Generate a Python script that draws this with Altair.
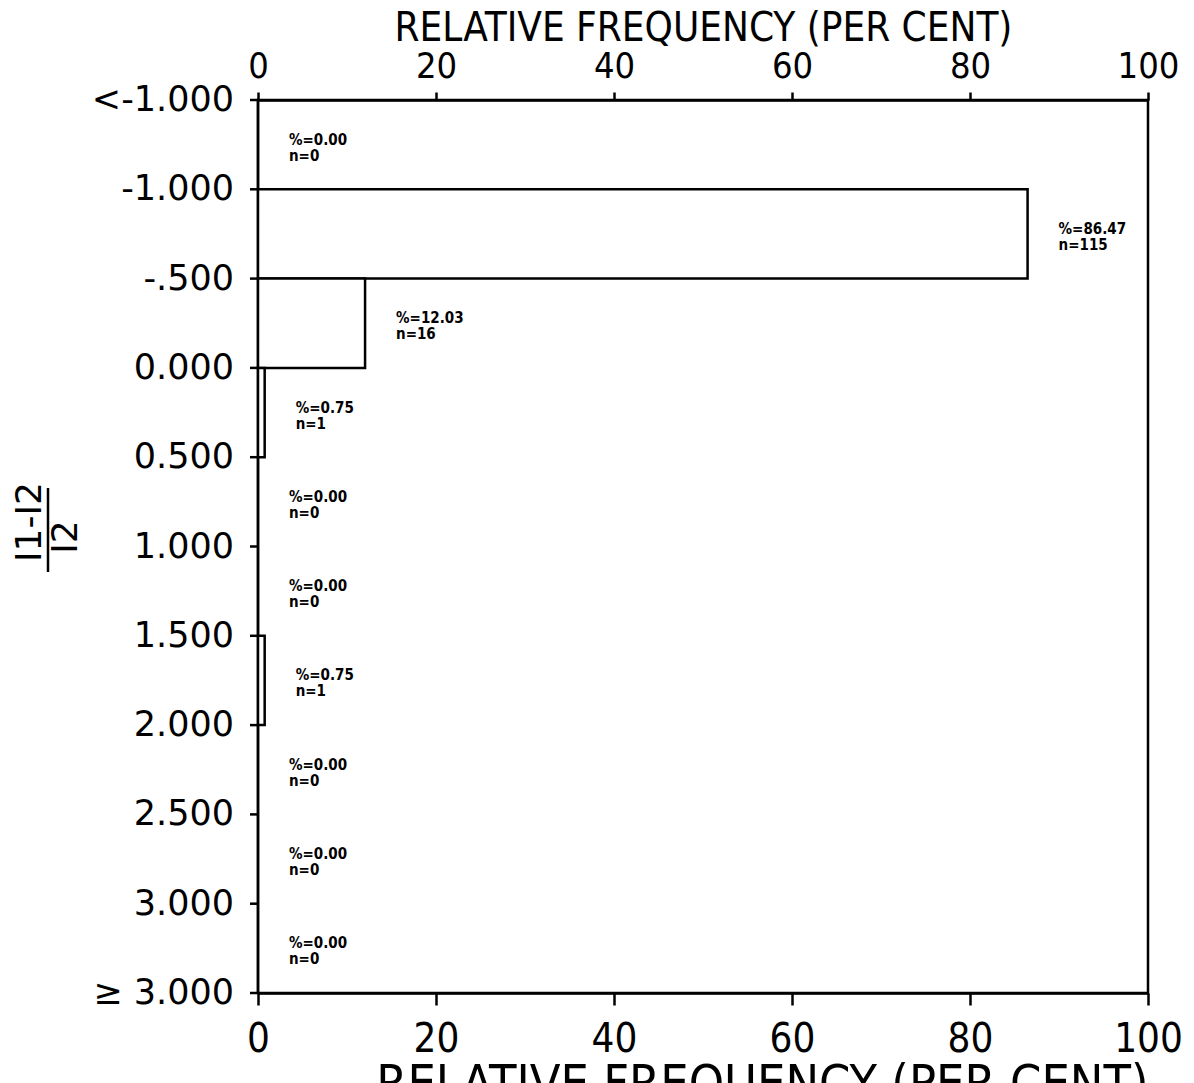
import altair as alt
import pandas as pd

# ---- data ----
boundary_labels = ["<-1.000", "-1.000", "-.500", "0.000", "0.500", "1.000",
                   "1.500", "2.000", "2.500", "3.000", "≥ 3.000"]
percent = [0.00, 86.47, 12.03, 0.75, 0.00, 0.00, 0.75, 0.00, 0.00, 0.00]
counts = [0, 115, 16, 1, 0, 0, 1, 0, 0, 0]
x_ticks = [0, 20, 40, 60, 80, 100]
x_title = "RELATIVE FREQUENCY (PER CENT)"

nb = len(percent)
df = pd.DataFrame({
    "lo": list(range(nb)),
    "hi": [i + 1 for i in range(nb)],
    "mid": [i + 0.5 for i in range(nb)],
    "pct": percent,
    "n": counts,
    "zero": [0] * nb,
})
df["line1"] = ["%={:.2f}".format(p) for p in percent]
df["line2"] = ["n={}".format(c) for c in counts]

ylab = pd.DataFrame({"pos": list(range(nb + 1)), "lab": boundary_labels})

W, H = 890, 893
FONT = "DejaVu Sans Condensed, DejaVu Sans"

xscale = alt.Scale(domain=[0, 100], nice=False)
yscale = alt.Scale(domain=[0, nb], reverse=True, nice=False)

bars = alt.Chart(df).mark_rect(fill="white", stroke="black", strokeWidth=2.5).encode(
    x=alt.X("zero:Q", scale=xscale,
            axis=alt.Axis(orient="bottom", values=x_ticks, title=x_title, grid=False,
                          labelFontSize=40, titleFontSize=50, labelFont=FONT, titleFont=FONT,
                          titleFontWeight="normal", tickSize=12, tickWidth=2.5,
                          labelPadding=14, titlePadding=0, titleAnchor="end",
                          domainWidth=2.5,
                          labelFlush=False, tickColor="black", domainColor="black",
                          labelColor="black", titleColor="black")),
    x2="pct:Q",
    y=alt.Y("lo:Q", scale=yscale, axis=None),
    y2="hi:Q",
)

yticks = alt.Chart(ylab).mark_rule(color="black", strokeWidth=2.5).encode(
    x=alt.value(-8), x2=alt.value(0),
    y=alt.Y("pos:Q", scale=yscale, axis=None),
)

ylabels = alt.Chart(ylab).mark_text(align="right", baseline="middle", fontSize=35,
                                    font="DejaVu Sans", color="black").encode(
    x=alt.value(-24),
    y=alt.Y("pos:Q", scale=yscale, axis=None),
    text="lab:N",
)

txt1 = alt.Chart(df).mark_text(align="left", baseline="middle", dx=31, dy=-5,
                               fontSize=15, fontWeight="bold", font=FONT).encode(
    x=alt.X("pct:Q", scale=xscale,
            axis=alt.Axis(orient="top", values=x_ticks, title=x_title, grid=False,
                          labelFontSize=36, titleFontSize=40, labelFont=FONT, titleFont=FONT,
                          titleFontWeight="normal", tickSize=8, tickWidth=2.5,
                          labelPadding=7, titlePadding=0, domainWidth=2.5,
                          labelFlush=False, tickColor="black", domainColor="black",
                          labelColor="black", titleColor="black")),
    y=alt.Y("mid:Q", scale=yscale, axis=None),
    text="line1:N",
)
txt2 = alt.Chart(df).mark_text(align="left", baseline="middle", dx=31, dy=11,
                               fontSize=15, fontWeight="bold", font=FONT).encode(
    x=alt.X("pct:Q", scale=xscale, axis=None),
    y=alt.Y("mid:Q", scale=yscale, axis=None),
    text="line2:N",
)

# y-axis title drawn as a fraction (I1-I2)/I2
ttl = pd.DataFrame({"num": ["I1-I2"], "den": ["I2"]})
num = alt.Chart(ttl).mark_text(angle=270, fontSize=36, font="DejaVu Sans", align="center",
                               baseline="middle", color="black").encode(
    x=alt.value(-228), y=alt.value(422), text="num:N")
den = alt.Chart(ttl).mark_text(angle=270, fontSize=36, font="DejaVu Sans", align="center",
                               baseline="middle", color="black").encode(
    x=alt.value(-192), y=alt.value(437), text="den:N")
bar = alt.Chart(ttl).mark_rule(color="black", strokeWidth=2.5).encode(
    x=alt.value(-210), y=alt.value(388), y2=alt.value(472))

chart = alt.layer(bars, yticks, ylabels, txt1, txt2, num, bar, den).properties(
    width=W, height=H,
    autosize=alt.AutoSizeParams(type="none"),
    padding={"left": 250, "top": 92, "right": 38, "bottom": 92},
    background="white",
).configure_view(stroke="black", strokeWidth=2.5)

chart.save("out.html", embed_options={"renderer": "svg", "actions": False})
